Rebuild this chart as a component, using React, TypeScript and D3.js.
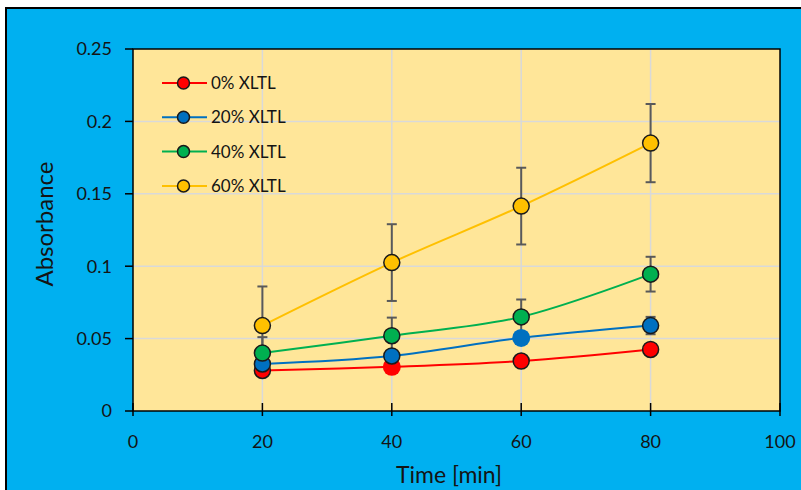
import React from "react";
import * as d3 from "d3";

const times = [20, 40, 60, 80];
const seriesNames = ["0% XLTL", "20% XLTL", "40% XLTL", "60% XLTL"];
const seriesColors = ["#FF0000", "#0070C0", "#00B050", "#FFC000"];
const red = [0.028, 0.0305, 0.0345, 0.0425];
const blue = [0.0325, 0.038, 0.0505, 0.059];
const green = [0.04, 0.052, 0.065, 0.0945];
const yellow = [0.059, 0.1025, 0.1415, 0.185];
const redErr = [0.002, 0.002, 0.002, 0.002];
const blueErr = [0.004, 0.003, 0.003, 0.006];
const greenErr = [0.011, 0.0125, 0.012, 0.012];
const yellowErr = [0.027, 0.0265, 0.0265, 0.027];
const xTicks = [0, 20, 40, 60, 80, 100];
const yTicks = [0, 0.05, 0.1, 0.15, 0.2, 0.25];
// points drawn without outline in the reference (series index, point index)
const noOutline = [[0, 1], [1, 2]];

const values = [red, blue, green, yellow];
const errors = [redErr, blueErr, greenErr, yellowErr];

export default function App() {
  const W = 801, H = 490;
  const x = d3.scaleLinear().domain([0, 100]).range([133, 780]);
  const y = d3.scaleLinear().domain([0, 0.25]).range([411, 49]);
  const font = "Lato, 'Open Sans', sans-serif";
  const line = d3.line<number>()
    .x((_, i) => x(times[i]))
    .y((d) => y(d))
    .curve(d3.curveCatmullRom.alpha(0.5));
  const txtColor = "#141414";
  return (
    <svg width={W} height={H} style={{ position: "absolute", left: 0, top: 0 }}>
      <rect x={0} y={0} width={W} height={H} fill="#ffffff" />
      <rect x={6} y={8} width={W} height={H} fill="#00B0F0" stroke="#000" strokeWidth={2} />
      <rect x={x(0)} y={y(0.25)} width={x(100) - x(0)} height={y(0) - y(0.25)} fill="#FFE699" />
      {xTicks.slice(1, -1).map((t) => (
        <line key={"gx" + t} x1={x(t)} x2={x(t)} y1={y(0)} y2={y(0.25)} stroke="#D9D9D9" strokeWidth={1.5} />
      ))}
      {yTicks.slice(1, -1).map((t) => (
        <line key={"gy" + t} x1={x(0)} x2={x(100)} y1={y(t)} y2={y(t)} stroke="#D9D9D9" strokeWidth={1.5} />
      ))}
      <rect x={x(0)} y={y(0.25)} width={x(100) - x(0)} height={y(0) - y(0.25)} fill="none" stroke="#000" strokeWidth={1.5} />
      {yTicks.map((t) => (
        <g key={"yt" + t}>
          <line x1={x(0) - 8} x2={x(0)} y1={y(t)} y2={y(t)} stroke="#000" strokeWidth={1.5} />
          <text x={x(0) - 21} y={y(t)} dy="0.35em" textAnchor="end" fontFamily={font} fontSize={18} fill={txtColor}>
            {String(t)}
          </text>
        </g>
      ))}
      {xTicks.map((t) => (
        <g key={"xt" + t}>
          <line x1={x(t)} x2={x(t)} y1={y(0) - 8} y2={y(0) + 5} stroke="#000" strokeWidth={1.5} />
          <text x={x(t)} y={y(0) + 37} textAnchor="middle" fontFamily={font} fontSize={18} fill={txtColor}>
            {String(t)}
          </text>
        </g>
      ))}
      <text x={449} y={483} textAnchor="middle" fontFamily={font} fontSize={23} fill={txtColor}>Time [min]</text>
      <text transform={`translate(53,${(y(0) + y(0.25)) / 2 - 6}) rotate(-90)`} textAnchor="middle" fontFamily={font} fontSize={24} fill={txtColor}>Absorbance</text>
      {values.map((vals, si) => (
        <path key={"l" + si} d={line(vals) || ""} fill="none" stroke={seriesColors[si]} strokeWidth={2} />
      ))}
      {values.map((vals, si) => (
        <g key={"e" + si}>
          {vals.map((v, i) => {
            const e = errors[si][i];
            const cx = x(times[i]);
            return (
              <g key={i} stroke="#595959" strokeWidth={2}>
                <line x1={cx} x2={cx} y1={y(v - e)} y2={y(v + e)} />
                <line x1={cx - 5} x2={cx + 5} y1={y(v - e)} y2={y(v - e)} />
                <line x1={cx - 5} x2={cx + 5} y1={y(v + e)} y2={y(v + e)} />
              </g>
            );
          })}
        </g>
      ))}
      {values.map((vals, si) => (
        <g key={"m" + si}>
          {vals.map((v, i) => {
            const plain = noOutline.some(([a, b]) => a === si && b === i);
            return (
              <circle key={i} cx={x(times[i])} cy={y(v)} r={plain ? 9 : 8} fill={seriesColors[si]}
                stroke={plain ? "none" : "#1a1a1a"} strokeWidth={1.5} />
            );
          })}
        </g>
      ))}
      {seriesNames.map((n, i) => {
        const ly = 83 + i * 34.3;
        return (
          <g key={"lg" + i}>
            <line x1={162} x2={207} y1={ly} y2={ly} stroke={seriesColors[i]} strokeWidth={2} />
            <circle cx={183.5} cy={ly} r={6} fill={seriesColors[i]} stroke="#1a1a1a" strokeWidth={1.5} />
            <text x={211} y={ly} dy="0.35em" fontFamily={font} fontSize={17} fill={txtColor}>{n}</text>
          </g>
        );
      })}
    </svg>
  );
}
